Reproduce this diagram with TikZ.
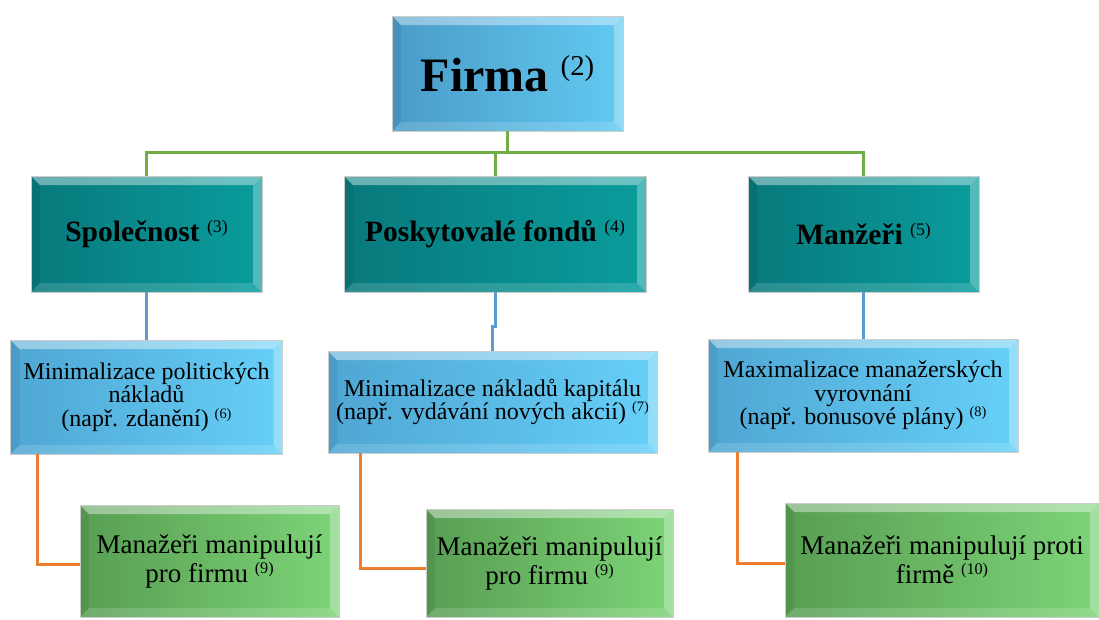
\documentclass[tikz,border=0pt]{standalone}
\usepackage{fontspec}
\setmainfont{Liberation Serif}
\definecolor{fblueA}{HTML}{4A9BC8}
\definecolor{fblueB}{HTML}{62CAF2}
\definecolor{tealA}{HTML}{08797C}
\definecolor{tealB}{HTML}{0A9C9C}
\definecolor{lblueA}{HTML}{4FA6D3}
\definecolor{lblueB}{HTML}{66D0F8}
\definecolor{grnA}{HTML}{589E53}
\definecolor{grnB}{HTML}{7DD477}
\definecolor{lineG}{HTML}{70AD47}
\definecolor{lineB}{HTML}{5B9BD5}
\definecolor{lineO}{HTML}{ED7D31}
\newcommand\refno[1]{\raisebox{.33em}{\mdseries\scalebox{.6}{(#1)}}}
\tikzset{
  bevel/.style={path picture={
    \fill[white,opacity=.4] (path picture bounding box.north west) -- (path picture bounding box.north east)
      -- ([xshift=-9pt,yshift=-9pt]path picture bounding box.north east) -- ([xshift=9pt,yshift=-9pt]path picture bounding box.north west) -- cycle;
    \fill[white,opacity=.3] (path picture bounding box.north east) -- (path picture bounding box.south east)
      -- ([xshift=-9pt,yshift=9pt]path picture bounding box.south east) -- ([xshift=-9pt,yshift=-9pt]path picture bounding box.north east) -- cycle;
    \fill[white,opacity=.15] (path picture bounding box.south east) -- (path picture bounding box.south west)
      -- ([xshift=9pt,yshift=9pt]path picture bounding box.south west) -- ([xshift=-9pt,yshift=9pt]path picture bounding box.south east) -- cycle;
    \fill[black,opacity=.06] (path picture bounding box.south west) -- (path picture bounding box.north west)
      -- ([xshift=9pt,yshift=-9pt]path picture bounding box.north west) -- ([xshift=9pt,yshift=9pt]path picture bounding box.south west) -- cycle;
  }},
  tile/.style={draw=black!20, line width=.6pt, inner sep=0pt, align=center, bevel},
  firm/.style={tile, left color=fblueA, right color=fblueB, font=\fontsize{48}{54}\selectfont\bfseries},
  party/.style={tile, left color=tealA, right color=tealB, font=\fontsize{29.5}{33}\selectfont\bfseries},
  goal/.style={tile, left color=lblueA, right color=lblueB, font=\fontsize{24}{23.5}\selectfont},
  act/.style={tile, left color=grnA, right color=grnB, font=\fontsize{27}{29}\selectfont},
  gline/.style={lineG, line width=3pt},
  bline/.style={lineB, line width=3pt},
  oline/.style={lineO, line width=3pt}
}
\begin{document}
\begin{tikzpicture}[x=1pt, y=-1pt]
    \useasboundingbox[fill=white] (0,0) rectangle (1099,619);

    \node[firm, minimum width=231pt, minimum height=115pt] (FI) at (507.5, 73.5) {Firma \refno{2}};

    \node[party, minimum width=231pt, minimum height=116pt] (SP) at (146.5, 234) {Společnost \refno{3}};
    \node[party, minimum width=302pt, minimum height=116pt] (PF) at (495, 234) {Poskytovalé fondů \refno{4}};
    \node[party, minimum width=231pt, minimum height=116pt] (MA) at (863.5, 234) {Manžeři \refno{5}};

    \node[goal, minimum width=272pt, minimum height=114pt] (MP) at (146.5, 397) {Minimalizace politických\\nákladů\\(např. zdanění) \refno{6}};
    \node[goal, minimum width=329pt, minimum height=102pt] (MK) at (492.5, 402) {Minimalizace nákladů kapitálu\\(např. vydávání nových akcií) \refno{7}};
    \node[goal, minimum width=310pt, minimum height=113pt] (MV) at (863, 395.5) {Maximalizace manažerských\\vyrovnání\\(např. bonusové plány) \refno{8}};

    \node[act, minimum width=259pt, minimum height=112pt] (PR1) at (209.5, 561) {Manažeři manipulují\\pro firmu \refno{9}};
    \node[act, minimum width=247pt, minimum height=108pt] (PR2) at (549.5, 563) {Manažeři manipulují\\pro firmu \refno{9}};
    \node[act, minimum width=314pt, minimum height=114pt] (PT) at (942, 560) {Manažeři manipulují proti\\firmě \refno{10}};

    \draw[gline] (FI.south) -- ++(0, 21) -| (SP.north);
    \draw[gline] (FI.south) -- ++(0, 21) -| (PF.north);
    \draw[gline] (FI.south) -- ++(0, 21) -| (MA.north);

    \draw[bline] (SP.south) -- (MP.north);
    \draw[bline] (PF.south) -- ++(0, 34) -| (MK.north);
    \draw[bline] (MA.south) -- (MA.south |- MV.north);

    \draw[oline] ([xshift=27pt]MP.south west) |- ([yshift=-3pt]PR1.west);
    \draw[oline] ([xshift=33pt]MK.south west) |- ([yshift=-5pt]PR2.west);
    \draw[oline] ([xshift=30pt]MV.south west) |- ([yshift=-3pt]PT.west);
\end{tikzpicture}
\end{document}
